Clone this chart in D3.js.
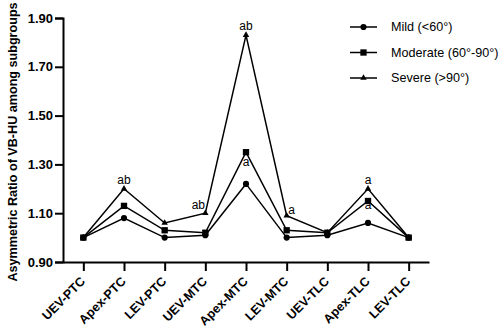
<!DOCTYPE html>
<html>
<head>
<meta charset="utf-8">
<script src="https://cdn.jsdelivr.net/npm/d3@7"></script>
<style>
  body { margin: 0; background: #fff; }
  text { font-family: Arial, "Liberation Sans", sans-serif; }
</style>
</head>
<body>
<div id="chart"></div>
<script>
// categories and series values
var categories = ["UEV-PTC", "Apex-PTC", "LEV-PTC", "UEV-MTC", "Apex-MTC",
                  "LEV-MTC", "UEV-TLC", "Apex-TLC", "LEV-TLC"];
var mild     = [1.00, 1.08, 1.00, 1.01, 1.22, 1.00, 1.01, 1.06, 1.00];
var moderate = [1.00, 1.13, 1.03, 1.02, 1.35, 1.03, 1.02, 1.15, 1.00];
var severe   = [1.00, 1.20, 1.06, 1.10, 1.83, 1.09, 1.02, 1.20, 1.00];
var seriesNames = ["Mild (<60°)", "Moderate (60°-90°)", "Severe (>90°)"];
var yTicks = [0.90, 1.10, 1.30, 1.50, 1.70, 1.90];

// significance letters: [category, value the letter sits at, letter, dx, dy]
var marks = [
  ["Apex-PTC", 1.20, "ab", 0, -5],
  ["UEV-MTC", 1.10, "ab", -7, -4],
  ["Apex-MTC", 1.83, "ab", 0, -5],
  ["Apex-MTC", 1.35, "a", 0, 14],
  ["LEV-MTC", 1.09, "a", 5, -2],
  ["Apex-TLC", 1.20, "a", 0, -5],
  ["Apex-TLC", 1.15, "a", 0, 8]
];

var margin = {top: 18, right: 71, bottom: 67, left: 63},
    width = 500 - margin.left - margin.right,
    height = 329 - margin.top - margin.bottom;

var svg = d3.select("#chart").append("svg")
    .attr("width", 500)
    .attr("height", 329)
  .append("g")
    .attr("transform", "translate(" + margin.left + "," + margin.top + ")");

var x = d3.scalePoint().domain(categories).range([0, width]).padding(0.5);
var y = d3.scaleLinear().domain([0.90, 1.90]).range([height, 0]);

var data = [mild, moderate, severe].map(function(vals, i) {
  return {name: seriesNames[i], values: vals.map(function(v, j) {
    return {cat: categories[j], v: v};
  })};
});

var line = d3.line()
    .x(function(d) { return x(d.cat); })
    .y(function(d) { return y(d.v); });

var symbols = [d3.symbolCircle, d3.symbolSquare, d3.symbolTriangle];
var symSizes = [30, 40, 18];

// y axis
var yAxis = svg.append("g")
    .call(d3.axisLeft(y).tickValues(yTicks).tickFormat(d3.format(".2f")).tickSize(8).tickPadding(2));
yAxis.select(".domain").attr("stroke-width", 2);
yAxis.selectAll(".tick line").attr("stroke-width", 2);
yAxis.selectAll("text")
    .style("font-size", "13px").style("font-weight", "bold").attr("fill", "#000");

// x axis
var xAxis = svg.append("g")
    .attr("transform", "translate(0," + height + ")")
    .call(d3.axisBottom(x).tickSize(9).tickSizeOuter(0));
xAxis.select(".domain").attr("stroke-width", 2);
xAxis.selectAll(".tick line").attr("stroke-width", 2);
xAxis.selectAll("text")
    .style("font-size", "12.6px").style("font-weight", "bold").attr("fill", "#000")
    .attr("text-anchor", "end")
    .attr("dy", "0.35em")
    .attr("transform", "translate(-1,17) rotate(-45)")
    .attr("y", 0).attr("x", 0);

// y title
svg.append("text")
    .attr("transform", "rotate(-90)")
    .attr("x", -(142 - margin.top))
    .attr("y", -margin.left + 17)
    .attr("text-anchor", "middle")
    .style("font-size", "12.6px")
    .style("font-weight", "bold")
    .text("Asymmetric Ratio of VB-HU among subgroups");

// lines
svg.selectAll(".series")
    .data(data)
  .enter().append("path")
    .attr("class", "series")
    .attr("fill", "none")
    .attr("stroke", "#000")
    .attr("stroke-width", 1.5)
    .attr("d", function(d) { return line(d.values); });

// markers
data.forEach(function(s, i) {
  svg.selectAll(".pt" + i)
      .data(s.values)
    .enter().append("path")
      .attr("class", "pt" + i)
      .attr("d", d3.symbol().type(symbols[i]).size(symSizes[i]))
      .attr("transform", function(d) { return "translate(" + x(d.cat) + "," + y(d.v) + ")"; })
      .attr("fill", "#000");
});

// significance letters
svg.selectAll(".sig")
    .data(marks)
  .enter().append("text")
    .attr("class", "sig")
    .attr("x", function(d) { return x(d[0]) + d[3]; })
    .attr("y", function(d) { return y(d[1]) + d[4]; })
    .attr("text-anchor", "middle")
    .style("font-size", "12px")
    .text(function(d) { return d[2]; });

// legend
var legend = svg.append("g")
    .attr("transform", "translate(" + (350 - margin.left) + "," + (27 - margin.top) + ")");
seriesNames.forEach(function(name, i) {
  var g = legend.append("g").attr("transform", "translate(0," + (i * 25.5) + ")");
  g.append("line").attr("x1", 0).attr("x2", 27).attr("stroke", "#000").attr("stroke-width", 1.5);
  g.append("path")
      .attr("d", d3.symbol().type(symbols[i]).size(symSizes[i]))
      .attr("transform", "translate(13.5,0)");
  g.append("text")
      .attr("x", 41)
      .attr("dy", "0.35em")
      .style("font-size", "12.6px")
      .text(name);
});
</script>
</body>
</html>
